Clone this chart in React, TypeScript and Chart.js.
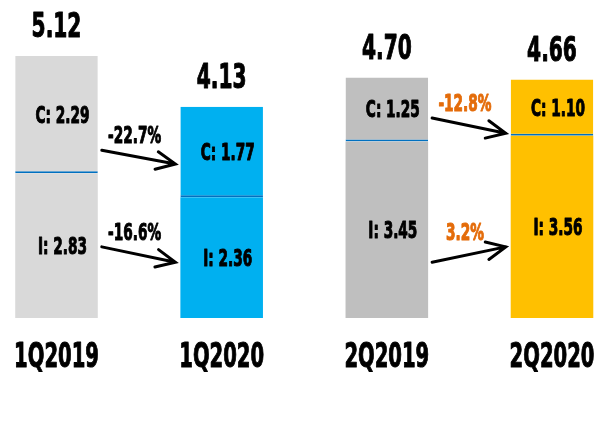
import React, { useEffect, useRef } from "react";
import { Chart, registerables } from "chart.js";

Chart.register(...registerables);

const categories = ["1Q2019", "1Q2020", "2Q2019", "2Q2020"];
const iValues = [2.83, 2.36, 3.45, 3.56];
const cValues = [2.29, 1.77, 1.25, 1.1];
const barColors = ["#d9d9d9", "#00b0f0", "#bfbfbf", "#ffc000"];
const changeLabels = ["-22.7%", "-16.6%", "-12.8%", "3.2%"];
const changeColors = ["#000000", "#000000", "#e46c0a", "#e46c0a"];
// arrows between bars: from bar index, start/end in data units
const arrowFrom = [0, 0, 2, 2];
const arrowY0 = [3.28, 1.39, 3.91, 1.09];
const arrowY1 = [3.01, 1.09, 3.61, 1.39];

const FONT = "'DejaVu Sans Condensed', 'DejaVu Sans', sans-serif";
const SX = 0.66;

function drawText(ctx: CanvasRenderingContext2D, text: string, x: number, y: number, size: number, color: string, sx = SX) {
  ctx.save();
  ctx.font = `bold ${size}px ${FONT}`;
  ctx.fillStyle = color;
  ctx.strokeStyle = color;
  ctx.lineWidth = 1;
  ctx.lineJoin = "round";
  ctx.textAlign = "center";
  ctx.textBaseline = "alphabetic";
  ctx.translate(x, y);
  ctx.scale(sx, 1);
  ctx.fillText(text, 0, 0);
  ctx.strokeText(text, 0, 0);
  ctx.restore();
}

const labelPlugin = {
  id: "labels",
  afterDatasetsDraw(chart: any) {
    const ctx = chart.ctx as CanvasRenderingContext2D;
    const metaI = chart.getDatasetMeta(0);
    const metaC = chart.getDatasetMeta(1);
    const y = chart.scales.y;
    const x = chart.scales.x;
    categories.forEach((_, i) => {
      const bi = metaI.data[i];
      const bc = metaC.data[i];
      const total = iValues[i] + cValues[i];
      drawText(ctx, total.toFixed(2), bi.x, bc.y - 19, 34, "#000");
      const cMid = (bc.y + bc.base) / 2;
      const iMid = (bi.y + bi.base) / 2;
      drawText(ctx, "C: " + cValues[i].toFixed(2), bi.x + 6, cMid + 8, 23, "#000");
      drawText(ctx, "I: " + iValues[i].toFixed(2), bi.x + 6, iMid + 8, 23, "#000");
    });
    // category labels along the x scale
    const labels = x.getLabels();
    labels.forEach((lab: string, i: number) => {
      drawText(ctx, lab, x.getPixelForTick(i), chart.chartArea.bottom + 49, 33, "#000");
    });
    // arrows
    changeLabels.forEach((lab, k) => {
      const a = metaI.data[arrowFrom[k]];
      const b = metaI.data[arrowFrom[k] + 1];
      const x0 = a.x + a.width / 2 + 4;
      const x1 = b.x - b.width / 2 - 5;
      const y0 = y.getPixelForValue(arrowY0[k]);
      const y1 = y.getPixelForValue(arrowY1[k]);
      ctx.save();
      ctx.strokeStyle = "#000";
      ctx.lineWidth = 3;
      ctx.lineCap = "round";
      ctx.beginPath();
      ctx.moveTo(x0, y0);
      ctx.lineTo(x1, y1);
      const ang = Math.atan2(y1 - y0, x1 - x0);
      const hl = 21;
      const spread = (25 * Math.PI) / 180;
      ctx.moveTo(x1 - hl * Math.cos(ang - spread), y1 - hl * Math.sin(ang - spread));
      ctx.lineTo(x1, y1);
      ctx.lineTo(x1 - hl * Math.cos(ang + spread), y1 - hl * Math.sin(ang + spread));
      ctx.stroke();
      ctx.restore();
      const lx = (x0 + x1) / 2 - 4;
      const ly = Math.min(y0, y1) - 7;
      drawText(ctx, lab, lx, ly, 23, changeColors[k]);
    });
  },
};

export default function App() {
  const ref = useRef<HTMLCanvasElement | null>(null);
  useEffect(() => {
    if (!ref.current) return;
    const chart = new Chart(ref.current, {
      type: "bar",
      data: {
        labels: categories,
        datasets: [
          {
            label: "I",
            data: iValues,
            backgroundColor: barColors,
            borderWidth: 0,
            clip: false as any,
          },
          {
            label: "C",
            data: cValues,
            backgroundColor: barColors,
            borderColor: "#0070c0",
            borderWidth: { top: 0, right: 0, bottom: 2, left: 0 } as any,
            borderSkipped: false,
            clip: false as any,
          },
        ],
      },
      options: {
        animation: false,
        responsive: true,
        maintainAspectRatio: false,
        categoryPercentage: 0.5,
        barPercentage: 1,
        layout: { padding: { top: 11, left: 56.5, right: 46, bottom: 111 } },
        plugins: { legend: { display: false }, tooltip: { enabled: false } },
        scales: {
          x: {
            stacked: true,
            offset: false,
            display: false,
          },
          y: {
            stacked: true,
            display: false,
            min: 0,
            max: 6,
          },
        },
      },
      plugins: [labelPlugin],
    });
    return () => chart.destroy();
  }, []);
  return (
    <div style={{ position: "absolute", left: 0, top: 0, width: 598, height: 429, background: "#fff" }}>
      <canvas ref={ref} />
    </div>
  );
}
